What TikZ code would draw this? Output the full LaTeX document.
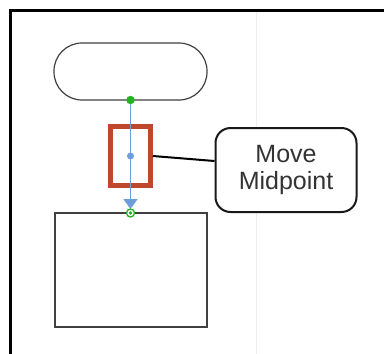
\documentclass[tikz,border=0pt]{standalone}
\usepackage{fontspec}
\setmainfont{Liberation Sans}
\usetikzlibrary{arrows.meta}
\definecolor{hblue}{HTML}{6D9EDB}
\definecolor{hgreen}{HTML}{22B322}
\definecolor{hred}{HTML}{C0472F}
\definecolor{faint}{HTML}{EEEEEE}
\begin{document}
\begin{tikzpicture}[x=1pt,y=-1pt,
  shapeline/.style={draw=black!75,line width=1.2pt},
  callbox/.style={draw=black!90,line width=2pt,rounded corners=15pt,fill=white},
  sel/.style={draw=hred,line width=4.5pt}]
\useasboundingbox (0,0) rectangle (384,354);
\fill[white] (0,0) rectangle (384,354);
% faint guide
\draw[faint,line width=1pt] (256,11) -- (256,354);
% frame
\draw[black,line width=3pt] (10,354) -- (10,10) -- (384,10);
% terminal
\draw[shapeline,rounded corners=28pt] (54,43) rectangle (207,100);
\coordinate (tbot) at (130.5,100);
% bottom process box
\draw[shapeline] (55,213) rectangle (207,327);
\coordinate (btop) at (130.5,213);
% selection rectangle
\node[sel,minimum width=40pt,minimum height=59pt,inner sep=0pt] (selr) at (130.5,156) {};
% connector
\draw[hblue,line width=1.8pt,-{Triangle[width=14pt,length=10pt]}] (tbot) -- ([yshift=4pt]btop);
\fill[hblue] (130.5,156) circle (3.5pt);
\fill[hgreen] (tbot) circle (4.2pt);
\draw[hgreen,line width=1.3pt,fill=white] (btop) circle (4pt);
\fill[hgreen] (btop) circle (1.8pt);
% callout
\node[callbox,minimum width=141pt,minimum height=84pt,align=center,font=\fontsize{25}{27}\selectfont,text=black!80] (call) at (286,170) {Move\\Midpoint};
\draw[black,line width=2pt] (selr.east) -- ([yshift=9pt]call.west);
\end{tikzpicture}
\end{document}
